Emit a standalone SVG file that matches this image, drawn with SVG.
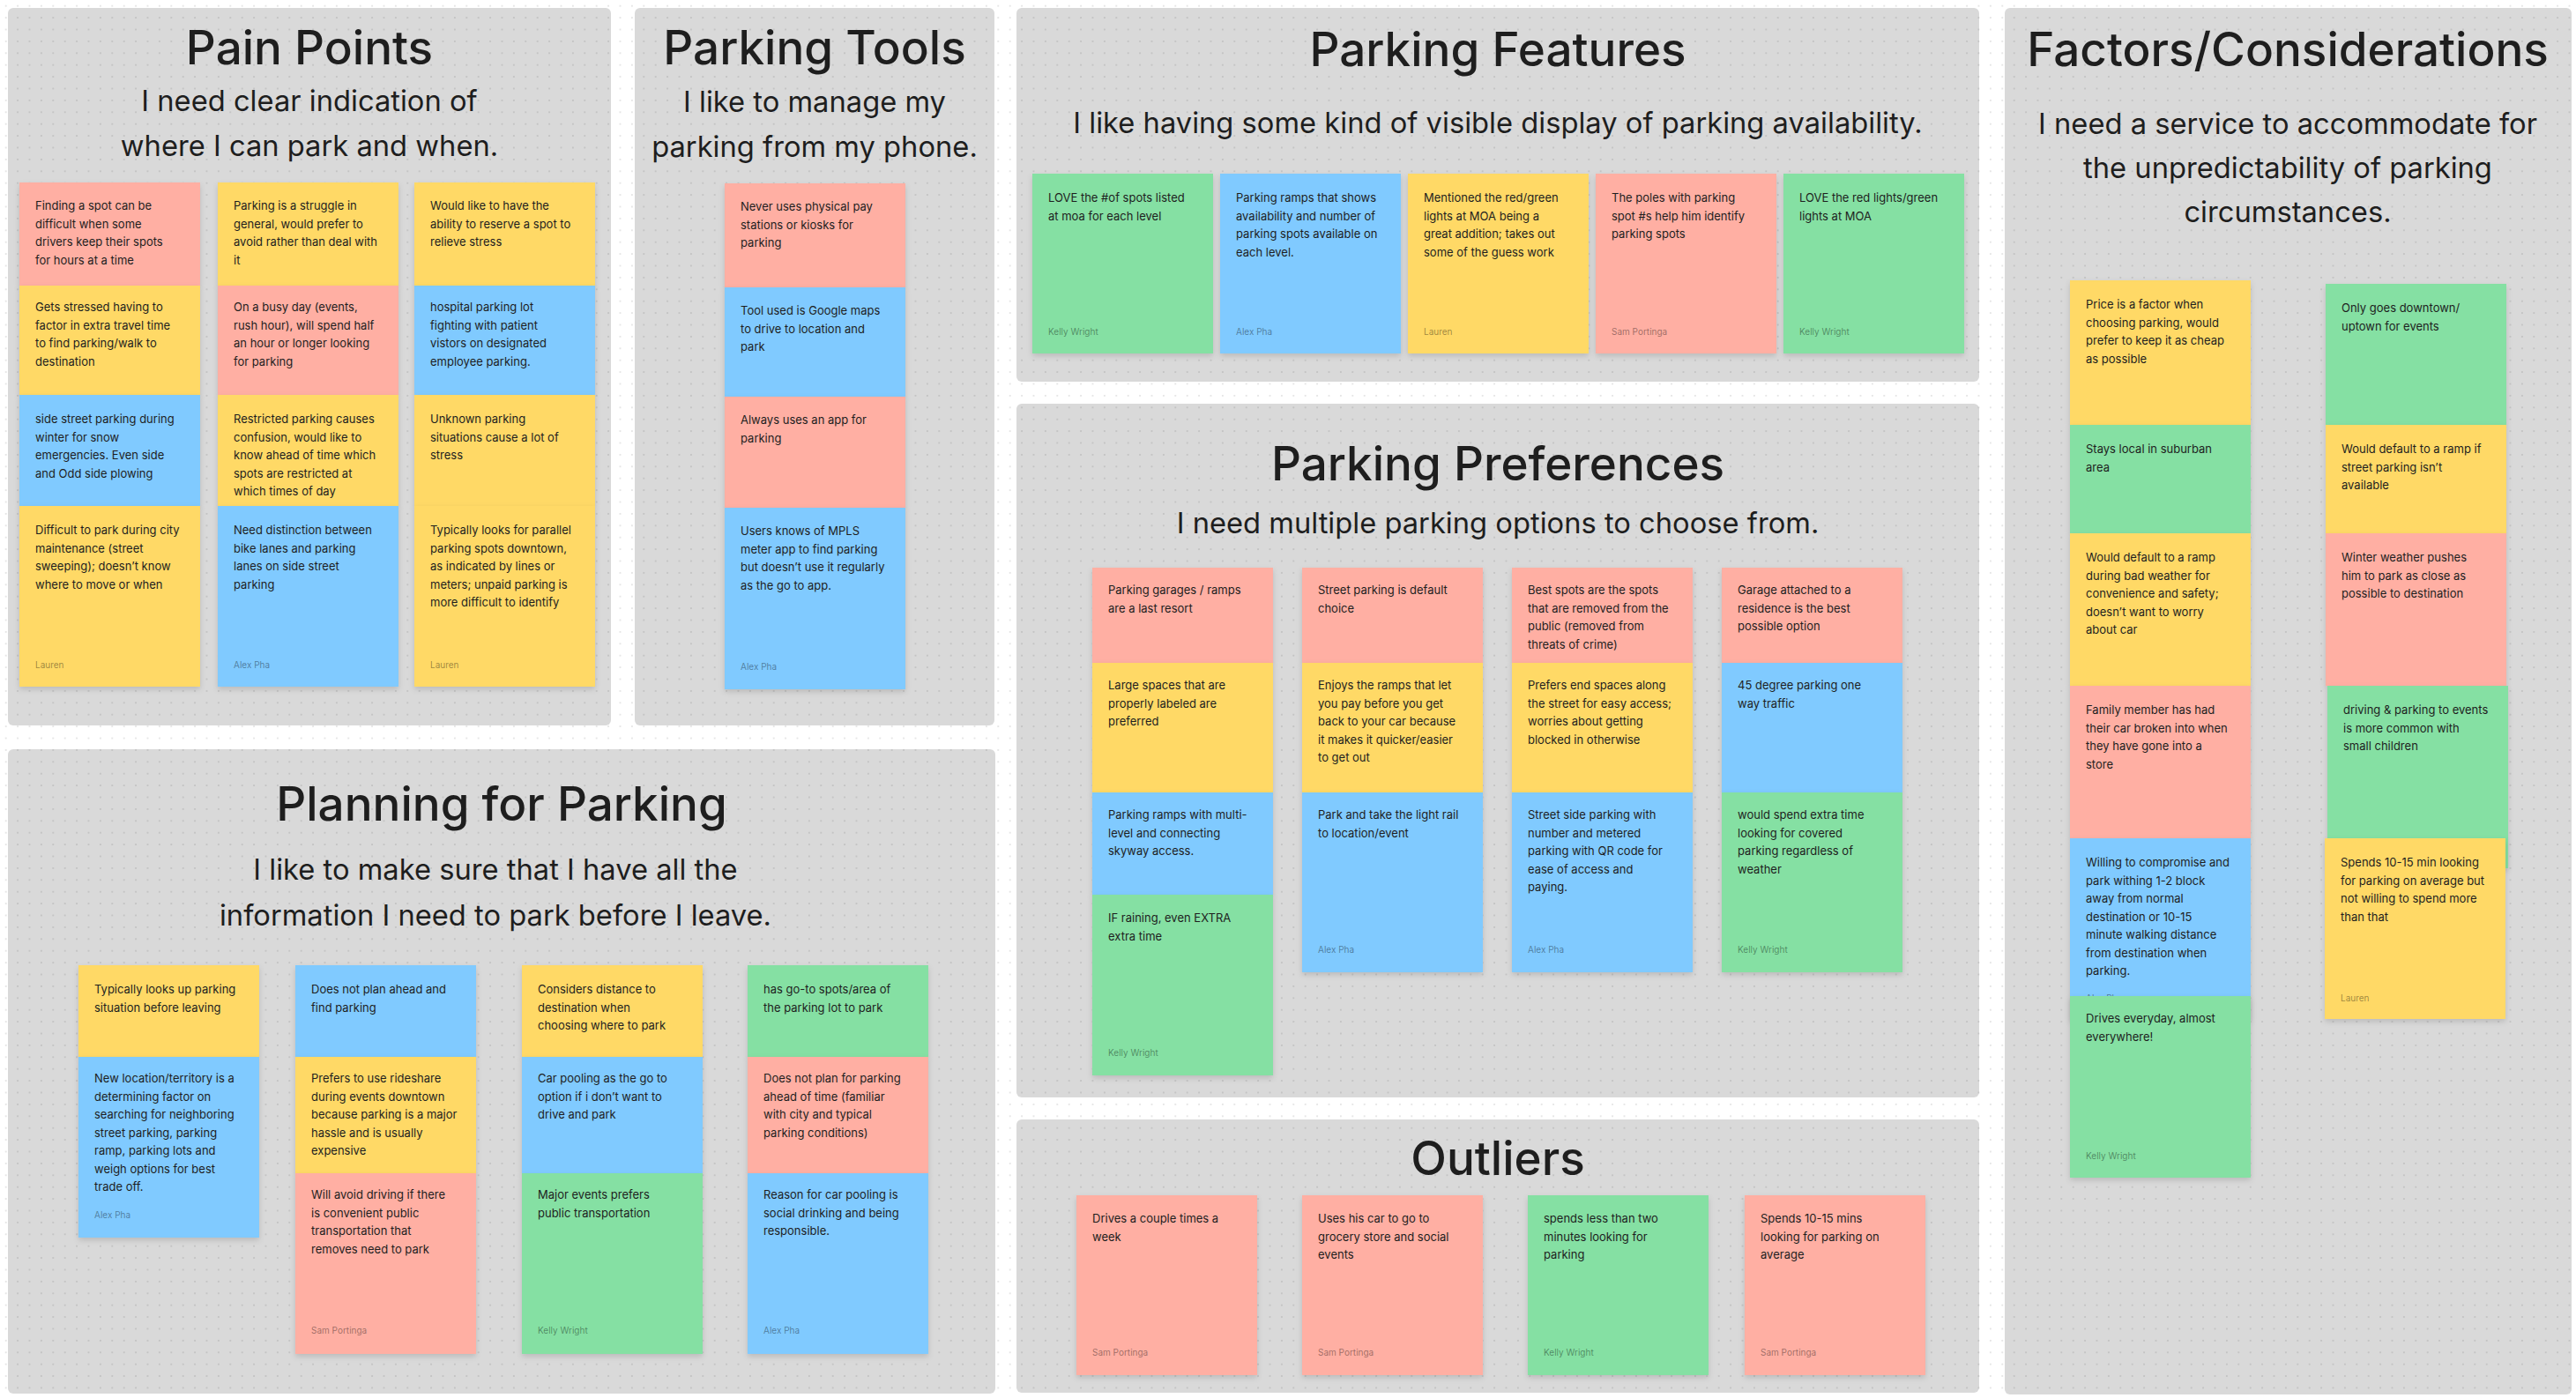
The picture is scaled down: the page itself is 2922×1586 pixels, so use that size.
<svg xmlns="http://www.w3.org/2000/svg" width="2922" height="1586" viewBox="0 0 2922 1586">
<style>
  .panel{fill:#d9d9d9}
  .h1{font-family:Inter,"Noto Sans",sans-serif;font-size:53px;font-weight:500;fill:#1e1e1e;text-anchor:middle}
  .h2{font-family:Inter,"Noto Sans",sans-serif;font-size:32.7px;font-weight:400;fill:#1e1e1e;text-anchor:middle}
  .r{fill:#ffafa3}.y{fill:#ffd966}.b{fill:#80caff}.g{fill:#85e0a3}
  .note rect{filter:url(#sh)}
  .t{font-family:Inter,"Noto Sans",sans-serif;font-size:13px;fill:#1e1e1e}
  .a{font-family:Inter,"Noto Sans",sans-serif;font-size:10px;fill:#000;fill-opacity:.4}
</style>
<defs>
  <pattern id="dots" width="13.4" height="13.4" patternUnits="userSpaceOnUse">
    <circle cx="6.7" cy="6.7" r="0.85" fill="#000" fill-opacity="0.14"/>
  </pattern>
  <filter id="sh" x="-10%" y="-10%" width="120%" height="130%">
    <feDropShadow dx="0" dy="3" stdDeviation="3" flood-color="#000" flood-opacity="0.14"/>
  </filter>
</defs>

<!-- canvas -->
<rect width="2922" height="1586" fill="#ffffff"/>

<!-- sections -->
<g id="sections">
  <rect class="panel" x="9" y="9" width="684" height="814" rx="6"/>
  <rect class="panel" x="720" y="9" width="408" height="814" rx="6"/>
  <rect class="panel" x="1153" y="9" width="1092" height="424" rx="6"/>
  <rect class="panel" x="1153" y="458" width="1092" height="787" rx="6"/>
  <rect class="panel" x="1153" y="1270" width="1092" height="310" rx="6"/>
  <rect class="panel" x="9" y="850" width="1120" height="731" rx="6"/>
  <rect class="panel" x="2274" y="9" width="643" height="1573" rx="6"/>
</g>
<rect width="2922" height="1586" fill="url(#dots)"/>

<!-- section headings -->
<g id="headings">
  <text class="h1" x="351" y="73">Pain Points</text>
  <text class="h2" x="351" y="126">I need clear indication of</text>
  <text class="h2" x="351" y="177">where I can park and when.</text>

  <text class="h1" x="924" y="73">Parking Tools</text>
  <text class="h2" x="924" y="127">I like to manage my</text>
  <text class="h2" x="924" y="178">parking from my phone.</text>

  <text class="h1" x="1699" y="75">Parking Features</text>
  <text class="h2" x="1699" y="151">I like having some kind of visible display of parking availability.</text>

  <text class="h1" x="1699" y="545">Parking Preferences</text>
  <text class="h2" x="1699" y="605">I need multiple parking options to choose from.</text>

  <text class="h1" x="1699" y="1333">Outliers</text>

  <text class="h1" x="569" y="931">Planning for Parking</text>
  <text class="h2" x="562" y="998">I like to make sure that I have all the</text>
  <text class="h2" x="562" y="1050">information I need to park before I leave.</text>

  <text class="h1" x="2595" y="75">Factors/Considerations</text>
  <text class="h2" x="2595" y="152">I need a service to accommodate for</text>
  <text class="h2" x="2595" y="202">the unpredictability of parking</text>
  <text class="h2" x="2595" y="252">circumstances.</text>
</g>

<!-- Pain Points notes -->
<g id="pain-1" class="note"><rect class="r" x="22" y="207" width="205" height="117"/><text class="t" y="238"><tspan x="40">Finding a spot can be</tspan><tspan x="40" dy="20.5">difficult when some</tspan><tspan x="40" dy="20.5">drivers keep their spots</tspan><tspan x="40" dy="20.5">for hours at a time</tspan></text></g>
<g id="pain-2" class="note"><rect class="y" x="22" y="324" width="205" height="124"/><text class="t" y="353"><tspan x="40">Gets stressed having to</tspan><tspan x="40" dy="20.5">factor in extra travel time</tspan><tspan x="40" dy="20.5">to find parking/walk to</tspan><tspan x="40" dy="20.5">destination</tspan></text></g>
<g id="pain-3" class="note"><rect class="b" x="22" y="448" width="205" height="126"/><text class="t" y="480"><tspan x="40">side street parking during</tspan><tspan x="40" dy="20.5">winter for snow</tspan><tspan x="40" dy="20.5">emergencies. Even side</tspan><tspan x="40" dy="20.5">and Odd side plowing</tspan></text></g>
<g id="pain-4" class="note"><rect class="y" x="22" y="574" width="205" height="205"/><text class="t" y="606"><tspan x="40">Difficult to park during city</tspan><tspan x="40" dy="20.5">maintenance (street</tspan><tspan x="40" dy="20.5">sweeping); doesn’t know</tspan><tspan x="40" dy="20.5">where to move or when</tspan></text><text class="a" x="40" y="758">Lauren</text></g>

<g id="pain-5" class="note"><rect class="y" x="247" y="207" width="205" height="117"/><text class="t" y="238"><tspan x="265">Parking is a struggle in</tspan><tspan x="265" dy="20.5">general, would prefer to</tspan><tspan x="265" dy="20.5">avoid rather than deal with</tspan><tspan x="265" dy="20.5">it</tspan></text></g>
<g id="pain-6" class="note"><rect class="r" x="247" y="324" width="205" height="124"/><text class="t" y="353"><tspan x="265">On a busy day (events,</tspan><tspan x="265" dy="20.5">rush hour), will spend half</tspan><tspan x="265" dy="20.5">an hour or longer looking</tspan><tspan x="265" dy="20.5">for parking</tspan></text></g>
<g id="pain-7" class="note"><rect class="y" x="247" y="448" width="205" height="126"/><text class="t" y="480"><tspan x="265">Restricted parking causes</tspan><tspan x="265" dy="20.5">confusion, would like to</tspan><tspan x="265" dy="20.5">know ahead of time which</tspan><tspan x="265" dy="20.5">spots are restricted at</tspan><tspan x="265" dy="20.5">which times of day</tspan></text></g>
<g id="pain-8" class="note"><rect class="b" x="247" y="574" width="205" height="205"/><text class="t" y="606"><tspan x="265">Need distinction between</tspan><tspan x="265" dy="20.5">bike lanes and parking</tspan><tspan x="265" dy="20.5">lanes on side street</tspan><tspan x="265" dy="20.5">parking</tspan></text><text class="a" x="265" y="758">Alex Pha</text></g>

<g id="pain-9" class="note"><rect class="y" x="470" y="207" width="205" height="117"/><text class="t" y="238"><tspan x="488">Would like to have the</tspan><tspan x="488" dy="20.5">ability to reserve a spot to</tspan><tspan x="488" dy="20.5">relieve stress</tspan></text></g>
<g id="pain-10" class="note"><rect class="b" x="470" y="324" width="205" height="124"/><text class="t" y="353"><tspan x="488">hospital parking lot</tspan><tspan x="488" dy="20.5">fighting with patient</tspan><tspan x="488" dy="20.5">vistors on designated</tspan><tspan x="488" dy="20.5">employee parking.</tspan></text></g>
<g id="pain-11" class="note"><rect class="y" x="470" y="448" width="205" height="126"/><text class="t" y="480"><tspan x="488">Unknown parking</tspan><tspan x="488" dy="20.5">situations cause a lot of</tspan><tspan x="488" dy="20.5">stress</tspan></text></g>
<g id="pain-12" class="note"><rect class="y" x="470" y="574" width="205" height="205"/><text class="t" y="606"><tspan x="488">Typically looks for parallel</tspan><tspan x="488" dy="20.5">parking spots downtown,</tspan><tspan x="488" dy="20.5">as indicated by lines or</tspan><tspan x="488" dy="20.5">meters; unpaid parking is</tspan><tspan x="488" dy="20.5">more difficult to identify</tspan></text><text class="a" x="488" y="758">Lauren</text></g>

<!-- Parking Tools notes -->
<g id="tools-1" class="note"><rect class="r" x="822" y="208" width="205" height="118"/><text class="t" y="239"><tspan x="840">Never uses physical pay</tspan><tspan x="840" dy="20.5">stations or kiosks for</tspan><tspan x="840" dy="20.5">parking</tspan></text></g>
<g id="tools-2" class="note"><rect class="b" x="822" y="326" width="205" height="124"/><text class="t" y="357"><tspan x="840">Tool used is Google maps</tspan><tspan x="840" dy="20.5">to drive to location and</tspan><tspan x="840" dy="20.5">park</tspan></text></g>
<g id="tools-3" class="note"><rect class="r" x="822" y="450" width="205" height="126"/><text class="t" y="481"><tspan x="840">Always uses an app for</tspan><tspan x="840" dy="20.5">parking</tspan></text></g>
<g id="tools-4" class="note"><rect class="b" x="822" y="576" width="205" height="206"/><text class="t" y="607"><tspan x="840">Users knows of MPLS</tspan><tspan x="840" dy="20.5">meter app to find parking</tspan><tspan x="840" dy="20.5">but doesn’t use it regularly</tspan><tspan x="840" dy="20.5">as the go to app.</tspan></text><text class="a" x="840" y="760">Alex Pha</text></g>

<!-- Parking Features notes -->
<g id="feat-1" class="note"><rect class="g" x="1171" y="197" width="205" height="204"/><text class="t" y="229"><tspan x="1189">LOVE the #of spots listed</tspan><tspan x="1189" dy="20.5">at moa for each level</tspan></text><text class="a" x="1189" y="380">Kelly Wright</text></g>
<g id="feat-2" class="note"><rect class="b" x="1384" y="197" width="205" height="204"/><text class="t" y="229"><tspan x="1402">Parking ramps that shows</tspan><tspan x="1402" dy="20.5">availability and number of</tspan><tspan x="1402" dy="20.5">parking spots available on</tspan><tspan x="1402" dy="20.5">each level.</tspan></text><text class="a" x="1402" y="380">Alex Pha</text></g>
<g id="feat-3" class="note"><rect class="y" x="1597" y="197" width="205" height="204"/><text class="t" y="229"><tspan x="1615">Mentioned the red/green</tspan><tspan x="1615" dy="20.5">lights at MOA being a</tspan><tspan x="1615" dy="20.5">great addition; takes out</tspan><tspan x="1615" dy="20.5">some of the guess work</tspan></text><text class="a" x="1615" y="380">Lauren</text></g>
<g id="feat-4" class="note"><rect class="r" x="1810" y="197" width="205" height="204"/><text class="t" y="229"><tspan x="1828">The poles with parking</tspan><tspan x="1828" dy="20.5">spot #s help him identify</tspan><tspan x="1828" dy="20.5">parking spots</tspan></text><text class="a" x="1828" y="380">Sam Portinga</text></g>
<g id="feat-5" class="note"><rect class="g" x="2023" y="197" width="205" height="204"/><text class="t" y="229"><tspan x="2041">LOVE the red lights/green</tspan><tspan x="2041" dy="20.5">lights at MOA</tspan></text><text class="a" x="2041" y="380">Kelly Wright</text></g>

<!-- Parking Preferences notes -->
<g id="pref-1" class="note"><rect class="r" x="1239" y="644" width="205" height="108"/><text class="t" y="674"><tspan x="1257">Parking garages / ramps</tspan><tspan x="1257" dy="20.5">are a last resort</tspan></text></g>
<g id="pref-2" class="note"><rect class="y" x="1239" y="752" width="205" height="147"/><text class="t" y="782"><tspan x="1257">Large spaces that are</tspan><tspan x="1257" dy="20.5">properly labeled are</tspan><tspan x="1257" dy="20.5">preferred</tspan></text></g>
<g id="pref-3" class="note"><rect class="b" x="1239" y="899" width="205" height="116"/><text class="t" y="929"><tspan x="1257">Parking ramps with multi-</tspan><tspan x="1257" dy="20.5">level and connecting</tspan><tspan x="1257" dy="20.5">skyway access.</tspan></text></g>
<g id="pref-4" class="note"><rect class="g" x="1239" y="1015" width="205" height="205"/><text class="t" y="1046"><tspan x="1257">IF raining, even EXTRA</tspan><tspan x="1257" dy="20.5">extra time</tspan></text><text class="a" x="1257" y="1198">Kelly Wright</text></g>

<g id="pref-5" class="note"><rect class="r" x="1477" y="644" width="205" height="108"/><text class="t" y="674"><tspan x="1495">Street parking is default</tspan><tspan x="1495" dy="20.5">choice</tspan></text></g>
<g id="pref-6" class="note"><rect class="y" x="1477" y="752" width="205" height="147"/><text class="t" y="782"><tspan x="1495">Enjoys the ramps that let</tspan><tspan x="1495" dy="20.5">you pay before you get</tspan><tspan x="1495" dy="20.5">back to your car because</tspan><tspan x="1495" dy="20.5">it makes it quicker/easier</tspan><tspan x="1495" dy="20.5">to get out</tspan></text></g>
<g id="pref-7" class="note"><rect class="b" x="1477" y="899" width="205" height="204"/><text class="t" y="929"><tspan x="1495">Park and take the light rail</tspan><tspan x="1495" dy="20.5">to location/event</tspan></text><text class="a" x="1495" y="1081">Alex Pha</text></g>

<g id="pref-8" class="note"><rect class="r" x="1715" y="644" width="205" height="108"/><text class="t" y="674"><tspan x="1733">Best spots are the spots</tspan><tspan x="1733" dy="20.5">that are removed from the</tspan><tspan x="1733" dy="20.5">public (removed from</tspan><tspan x="1733" dy="20.5">threats of crime)</tspan></text></g>
<g id="pref-9" class="note"><rect class="y" x="1715" y="752" width="205" height="147"/><text class="t" y="782"><tspan x="1733">Prefers end spaces along</tspan><tspan x="1733" dy="20.5">the street for easy access;</tspan><tspan x="1733" dy="20.5">worries about getting</tspan><tspan x="1733" dy="20.5">blocked in otherwise</tspan></text></g>
<g id="pref-10" class="note"><rect class="b" x="1715" y="899" width="205" height="204"/><text class="t" y="929"><tspan x="1733">Street side parking with</tspan><tspan x="1733" dy="20.5">number and metered</tspan><tspan x="1733" dy="20.5">parking with QR code for</tspan><tspan x="1733" dy="20.5">ease of access and</tspan><tspan x="1733" dy="20.5">paying.</tspan></text><text class="a" x="1733" y="1081">Alex Pha</text></g>

<g id="pref-11" class="note"><rect class="r" x="1953" y="644" width="205" height="108"/><text class="t" y="674"><tspan x="1971">Garage attached to a</tspan><tspan x="1971" dy="20.5">residence is the best</tspan><tspan x="1971" dy="20.5">possible option</tspan></text></g>
<g id="pref-12" class="note"><rect class="b" x="1953" y="752" width="205" height="147"/><text class="t" y="782"><tspan x="1971">45 degree parking one</tspan><tspan x="1971" dy="20.5">way traffic</tspan></text></g>
<g id="pref-13" class="note"><rect class="g" x="1953" y="899" width="205" height="204"/><text class="t" y="929"><tspan x="1971">would spend extra time</tspan><tspan x="1971" dy="20.5">looking for covered</tspan><tspan x="1971" dy="20.5">parking regardless of</tspan><tspan x="1971" dy="20.5">weather</tspan></text><text class="a" x="1971" y="1081">Kelly Wright</text></g>

<!-- Outliers notes -->
<g id="out-1" class="note"><rect class="r" x="1221" y="1356" width="205" height="204"/><text class="t" y="1387"><tspan x="1239">Drives a couple times a</tspan><tspan x="1239" dy="20.5">week</tspan></text><text class="a" x="1239" y="1538">Sam Portinga</text></g>
<g id="out-2" class="note"><rect class="r" x="1477" y="1356" width="205" height="204"/><text class="t" y="1387"><tspan x="1495">Uses his car to go to</tspan><tspan x="1495" dy="20.5">grocery store and social</tspan><tspan x="1495" dy="20.5">events</tspan></text><text class="a" x="1495" y="1538">Sam Portinga</text></g>
<g id="out-3" class="note"><rect class="g" x="1733" y="1356" width="205" height="204"/><text class="t" y="1387"><tspan x="1751">spends less than two</tspan><tspan x="1751" dy="20.5">minutes looking for</tspan><tspan x="1751" dy="20.5">parking</tspan></text><text class="a" x="1751" y="1538">Kelly Wright</text></g>
<g id="out-4" class="note"><rect class="r" x="1979" y="1356" width="205" height="204"/><text class="t" y="1387"><tspan x="1997">Spends 10-15 mins</tspan><tspan x="1997" dy="20.5">looking for parking on</tspan><tspan x="1997" dy="20.5">average</tspan></text><text class="a" x="1997" y="1538">Sam Portinga</text></g>

<!-- Planning for Parking notes -->
<g id="plan-1" class="note"><rect class="y" x="89" y="1095" width="205" height="104"/><text class="t" y="1127"><tspan x="107">Typically looks up parking</tspan><tspan x="107" dy="20.5">situation before leaving</tspan></text></g>
<g id="plan-2" class="note"><rect class="b" x="89" y="1199" width="205" height="205"/><text class="t" y="1228"><tspan x="107">New location/territory is a</tspan><tspan x="107" dy="20.5">determining factor on</tspan><tspan x="107" dy="20.5">searching for neighboring</tspan><tspan x="107" dy="20.5">street parking, parking</tspan><tspan x="107" dy="20.5">ramp, parking lots and</tspan><tspan x="107" dy="20.5">weigh options for best</tspan><tspan x="107" dy="20.5">trade off.</tspan></text><text class="a" x="107" y="1382">Alex Pha</text></g>

<g id="plan-3" class="note"><rect class="b" x="335" y="1095" width="205" height="104"/><text class="t" y="1127"><tspan x="353">Does not plan ahead and</tspan><tspan x="353" dy="20.5">find parking</tspan></text></g>
<g id="plan-4" class="note"><rect class="y" x="335" y="1199" width="205" height="132"/><text class="t" y="1228"><tspan x="353">Prefers to use rideshare</tspan><tspan x="353" dy="20.5">during events downtown</tspan><tspan x="353" dy="20.5">because parking is a major</tspan><tspan x="353" dy="20.5">hassle and is usually</tspan><tspan x="353" dy="20.5">expensive</tspan></text></g>
<g id="plan-5" class="note"><rect class="r" x="335" y="1331" width="205" height="205"/><text class="t" y="1360"><tspan x="353">Will avoid driving if there</tspan><tspan x="353" dy="20.5">is convenient public</tspan><tspan x="353" dy="20.5">transportation that</tspan><tspan x="353" dy="20.5">removes need to park</tspan></text><text class="a" x="353" y="1513">Sam Portinga</text></g>

<g id="plan-6" class="note"><rect class="y" x="592" y="1095" width="205" height="104"/><text class="t" y="1127"><tspan x="610">Considers distance to</tspan><tspan x="610" dy="20.5">destination when</tspan><tspan x="610" dy="20.5">choosing where to park</tspan></text></g>
<g id="plan-7" class="note"><rect class="b" x="592" y="1199" width="205" height="132"/><text class="t" y="1228"><tspan x="610">Car pooling as the go to</tspan><tspan x="610" dy="20.5">option if i don’t want to</tspan><tspan x="610" dy="20.5">drive and park</tspan></text></g>
<g id="plan-8" class="note"><rect class="g" x="592" y="1331" width="205" height="205"/><text class="t" y="1360"><tspan x="610">Major events prefers</tspan><tspan x="610" dy="20.5">public transportation</tspan></text><text class="a" x="610" y="1513">Kelly Wright</text></g>

<g id="plan-9" class="note"><rect class="g" x="848" y="1095" width="205" height="104"/><text class="t" y="1127"><tspan x="866">has go-to spots/area of</tspan><tspan x="866" dy="20.5">the parking lot to park</tspan></text></g>
<g id="plan-10" class="note"><rect class="r" x="848" y="1199" width="205" height="132"/><text class="t" y="1228"><tspan x="866">Does not plan for parking</tspan><tspan x="866" dy="20.5">ahead of time (familiar</tspan><tspan x="866" dy="20.5">with city and typical</tspan><tspan x="866" dy="20.5">parking conditions)</tspan></text></g>
<g id="plan-11" class="note"><rect class="b" x="848" y="1331" width="205" height="205"/><text class="t" y="1360"><tspan x="866">Reason for car pooling is</tspan><tspan x="866" dy="20.5">social drinking and being</tspan><tspan x="866" dy="20.5">responsible.</tspan></text><text class="a" x="866" y="1513">Alex Pha</text></g>

<!-- Factors/Considerations notes -->
<g id="fact-1" class="note"><rect class="y" x="2348" y="318" width="205" height="164"/><text class="t" y="350"><tspan x="2366">Price is a factor when</tspan><tspan x="2366" dy="20.5">choosing parking, would</tspan><tspan x="2366" dy="20.5">prefer to keep it as cheap</tspan><tspan x="2366" dy="20.5">as possible</tspan></text></g>
<g id="fact-2" class="note"><rect class="g" x="2348" y="482" width="205" height="123"/><text class="t" y="514"><tspan x="2366">Stays local in suburban</tspan><tspan x="2366" dy="20.5">area</tspan></text></g>
<g id="fact-3" class="note"><rect class="y" x="2348" y="605" width="205" height="173"/><text class="t" y="637"><tspan x="2366">Would default to a ramp</tspan><tspan x="2366" dy="20.5">during bad weather for</tspan><tspan x="2366" dy="20.5">convenience and safety;</tspan><tspan x="2366" dy="20.5">doesn’t want to worry</tspan><tspan x="2366" dy="20.5">about car</tspan></text></g>
<g id="fact-4" class="note"><rect class="r" x="2348" y="778" width="205" height="173"/><text class="t" y="810"><tspan x="2366">Family member has had</tspan><tspan x="2366" dy="20.5">their car broken into when</tspan><tspan x="2366" dy="20.5">they have gone into a</tspan><tspan x="2366" dy="20.5">store</tspan></text></g>
<g id="fact-5" class="note"><rect class="b" x="2348" y="951" width="205" height="206"/><text class="t" y="983"><tspan x="2366">Willing to compromise and</tspan><tspan x="2366" dy="20.5">park withing 1-2 block</tspan><tspan x="2366" dy="20.5">away from normal</tspan><tspan x="2366" dy="20.5">destination or 10-15</tspan><tspan x="2366" dy="20.5">minute walking distance</tspan><tspan x="2366" dy="20.5">from destination when</tspan><tspan x="2366" dy="20.5">parking.</tspan></text><text class="a" x="2366" y="1136">Alex Pha</text></g>
<g id="fact-6" class="note"><rect class="g" x="2348" y="1130" width="205" height="206"/><text class="t" y="1160"><tspan x="2366">Drives everyday, almost</tspan><tspan x="2366" dy="20.5">everywhere!</tspan></text><text class="a" x="2366" y="1315">Kelly Wright</text></g>

<g id="fact-7" class="note"><rect class="g" x="2638" y="322" width="205" height="160"/><text class="t" y="354"><tspan x="2656">Only goes downtown/</tspan><tspan x="2656" dy="20.5">uptown for events</tspan></text></g>
<g id="fact-8" class="note"><rect class="y" x="2638" y="482" width="205" height="123"/><text class="t" y="514"><tspan x="2656">Would default to a ramp if</tspan><tspan x="2656" dy="20.5">street parking isn’t</tspan><tspan x="2656" dy="20.5">available</tspan></text></g>
<g id="fact-9" class="note"><rect class="r" x="2638" y="605" width="205" height="173"/><text class="t" y="637"><tspan x="2656">Winter weather pushes</tspan><tspan x="2656" dy="20.5">him to park as close as</tspan><tspan x="2656" dy="20.5">possible to destination</tspan></text></g>
<g id="fact-10" class="note"><rect class="g" x="2640" y="778" width="205" height="207"/><text class="t" y="810"><tspan x="2658">driving &amp; parking to events</tspan><tspan x="2658" dy="20.5">is more common with</tspan><tspan x="2658" dy="20.5">small children</tspan></text></g>
<g id="fact-11" class="note"><rect class="y" x="2637" y="951" width="205" height="205"/><text class="t" y="983"><tspan x="2655">Spends 10-15 min looking</tspan><tspan x="2655" dy="20.5">for parking on average but</tspan><tspan x="2655" dy="20.5">not willing to spend more</tspan><tspan x="2655" dy="20.5">than that</tspan></text><text class="a" x="2655" y="1136">Lauren</text></g>

<g id="connectors"/>
</svg>
